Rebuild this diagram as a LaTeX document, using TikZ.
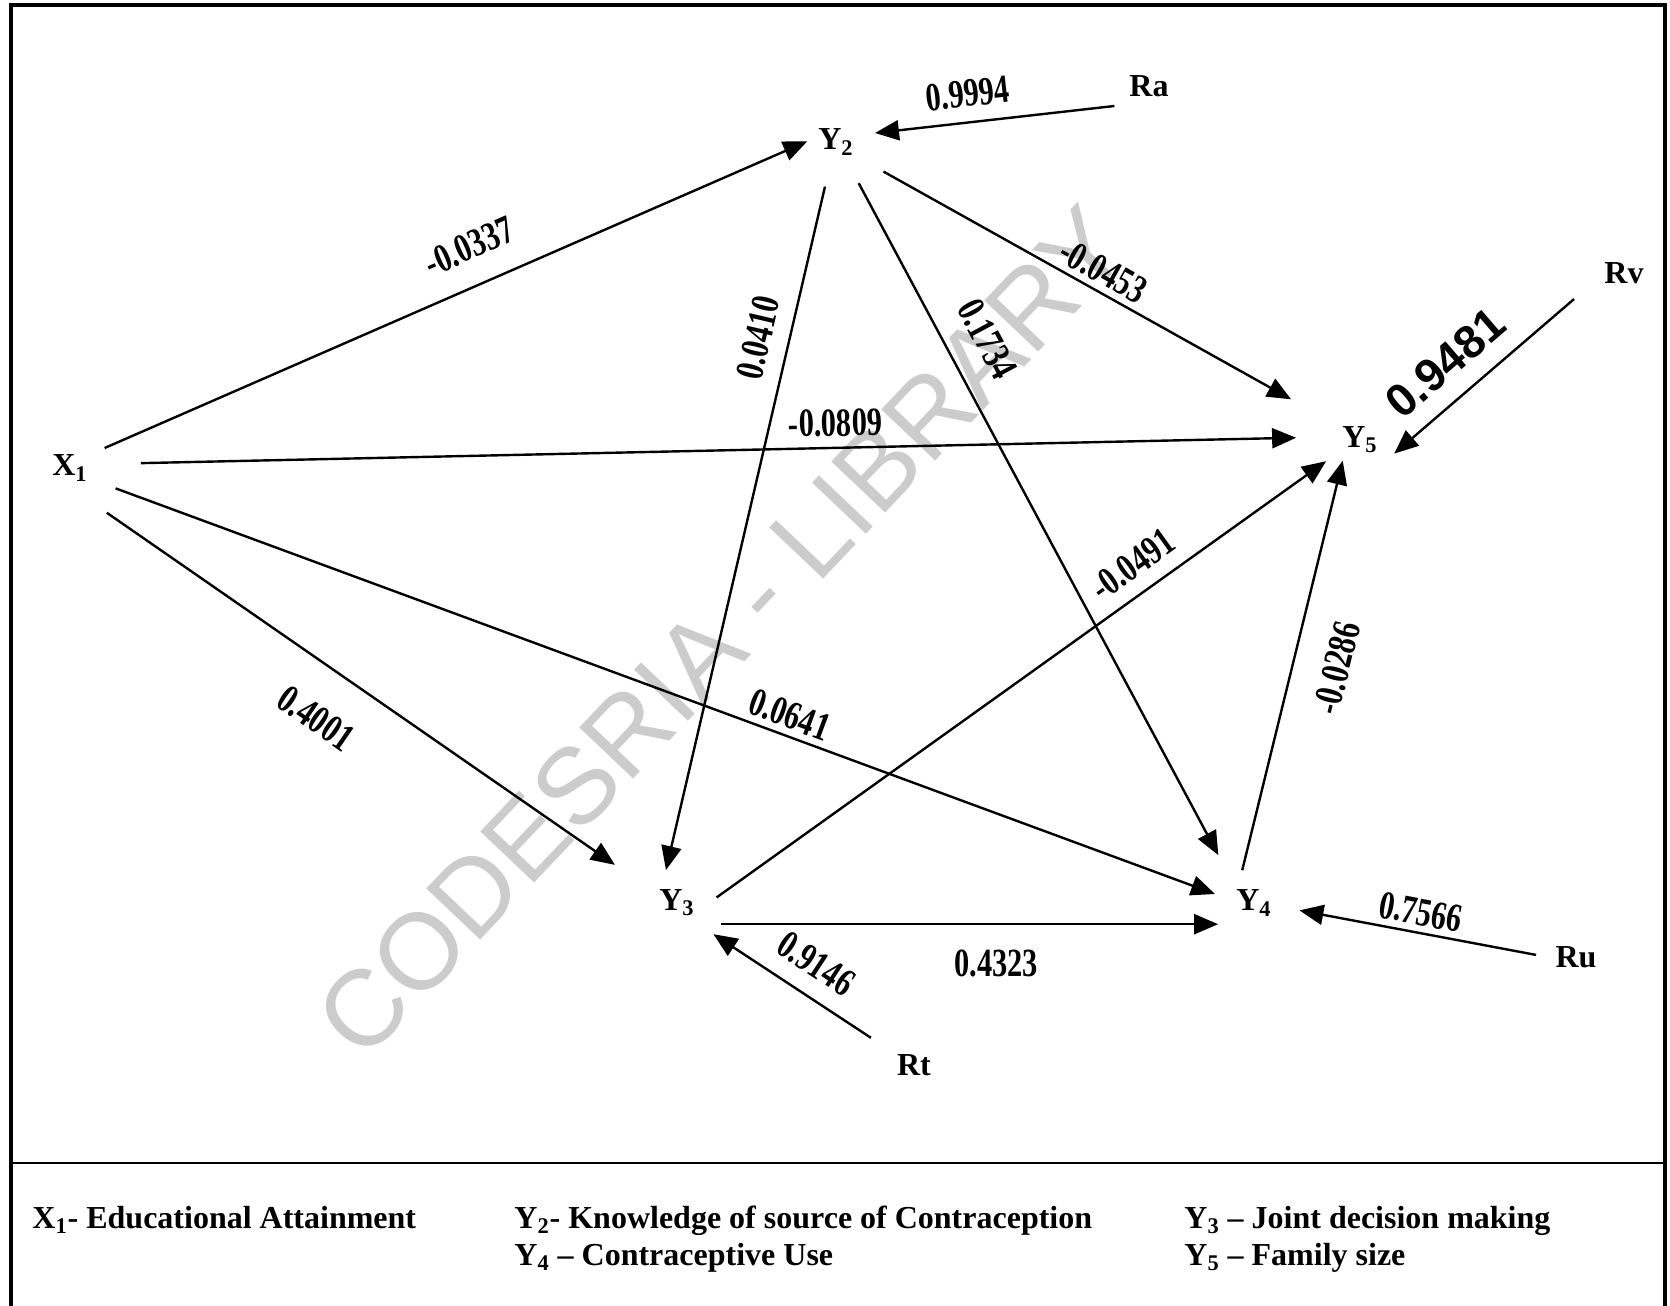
\documentclass[tikz,border=0pt]{standalone}
\usepackage{fontspec}
\setmainfont{Liberation Serif}
\newfontfamily\numfont[FakeStretch=0.76]{Liberation Serif}
\newfontfamily\markfont{Liberation Sans}
\usetikzlibrary{arrows.meta}

\begin{document}
\begin{tikzpicture}[x=0.5pt,y=-0.5pt,
	var/.style={circle,minimum size=40pt,inner sep=0pt,outer sep=0pt,font=\fontsize{16}{19}\selectfont\bfseries},
	link/.style={line width=1.2pt,-{Triangle[length=12pt,width=10pt]}},
	coef/.style={sloped,inner sep=0pt,font=\numfont\fontsize{20}{22}\selectfont\bfseries},
	key/.style={anchor=base west,inner sep=0pt,font=\fontsize{16}{19}\selectfont\bfseries}
	]
	\useasboundingbox (0,0) rectangle (1670,1306);
	% watermark
	\node[rotate=46.5,text=black!20,font=\markfont\fontsize{54}{62}\selectfont] (mark) at (722,632) {CODESRIA - LIBRARY};
	% frame
	\draw[line width=1.8pt] (11,1306) -- (11,5) -- (1665,5) -- (1665,1306);
	\draw[line width=1pt] (11,1163) -- (1665,1163);
	% variables
	\node[var] (x1) at (70,468) {X\textsubscript{1}};
	\node[var] (y2) at (836,142) {Y\textsubscript{2}};
	\node[var] (y3) at (677,903) {Y\textsubscript{3}};
	\node[var] (y4) at (1254,903) {Y\textsubscript{4}};
	\node[var] (y5) at (1360,440) {Y\textsubscript{5}};
	% residuals
	\node[var] (ra) at (1149,86) {Ra};
	\node[var] (rv) at (1624,273) {Rv};
	\node[var] (ru) at (1576,957) {Ru};
	\node[var] (rt) at (914,1065) {Rt};
	% paths
	\draw[link,shorten >=-6pt] (x1.30) -- node[coef,pos=0.55,above=12pt]{-0.0337} (y2.186);
	\draw[link,shorten <=15.5pt,shorten >=12pt] (x1.6) -- node[coef,pos=0.60,above=5pt]{-0.0809} (y5.176);
	\draw[link,shorten <=5pt] (x1.-25) -- node[coef,pos=0.61,above=3pt]{0.0641} (y4.167);
	\draw[link,shorten <=9.5pt,shorten >=16.5pt] (x1.-58) -- node[coef,pos=0.46,below=17.5pt]{0.4001} (y3.151);
	\draw[link,shorten <=3pt,shorten >=-3pt] (y2.-104) -- node[coef,pos=0.24,above=8pt]{0.0410} (y3.104);
	\draw[link,shorten <=3.5pt,shorten >=10pt] (y2.-61) -- node[coef,pos=0.26,above=12.5pt]{0.1734} (y4.131);
	\draw[link,shorten <=8pt,shorten >=20pt] (y2.-33) -- node[coef,pos=0.49,above=3pt]{-0.0453} (y5.148);
	\draw[link] (y3.8) -- node[coef,pos=0.71,above=7pt]{-0.0491} (y5.212);
	\draw[link,shorten <=5pt,shorten >=1pt] (y3.-32) -- node[coef,pos=0.56,below=12pt]{0.4323} (y4.212);
	\draw[link,shorten <=-3pt,shorten >=-7pt] (y4.105) -- node[coef,pos=0.53,below=14.5pt]{-0.0286} (y5.239);
	% residual paths
	\draw[link] (ra.210) -- node[coef,pos=0.60,above=7pt]{0.9994} (y2.13);
	\draw[link,shorten <=8.5pt,shorten >=-3pt] (rv.202) -- node[coef,pos=0.63,above=9pt,font=\markfont\fontsize{23}{26}\selectfont\bfseries]{0.9481} (y5.-14);
	\draw[link,shorten >=3pt] (ru.177) -- node[coef,pos=0.49,above=3pt]{0.7566} (y4.-9);
	\draw[link,shorten <=5.5pt,shorten >=4pt] (rt.148) -- node[coef,pos=0.47,above=8.5pt]{0.9146} (y3.-42);
	% key
	\node[key] (kx1) at (32,1228) {X\textsubscript{1}- Educational Attainment};
	\node[key] (ky2) at (514,1228) {Y\textsubscript{2}- Knowledge of source of Contraception};
	\node[key] (ky4) at (514,1265) {Y\textsubscript{4} – Contraceptive Use};
	\node[key] (ky3) at (1184,1228) {Y\textsubscript{3} – Joint decision making};
	\node[key] (ky5) at (1184,1265) {Y\textsubscript{5} – Family size};
\end{tikzpicture}
\end{document}
